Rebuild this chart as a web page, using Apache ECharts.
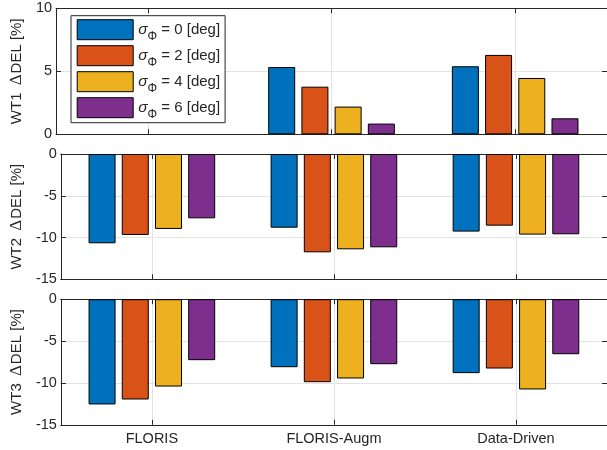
<!DOCTYPE html>
<html>
<head>
<meta charset="utf-8">
<script src="https://cdn.jsdelivr.net/npm/echarts@6/dist/echarts.min.js"></script>
<style>html,body{margin:0;padding:0;background:#fff;}#c{width:607px;height:450px;}</style>
</head>
<body>
<div id="c"></div>
<script>
// ---- data ----
const categories = ['FLORIS', 'FLORIS-Augm', 'Data-Driven'];
const sigmas = [0, 2, 4, 6];
const turbines = ['WT1', 'WT2', 'WT3'];
// values per sigma (rows) per category (columns); WT1 FLORIS is the baseline (no bar)
const wt1 = [
  [null, 5.34, 5.40],
  [null, 3.78, 6.30],
  [null, 2.20, 4.47],
  [null, 0.85, 1.27]
];
const wt2 = [
  [-10.69, -8.82, -9.29],
  [-9.69, -11.77, -8.58],
  [-8.97, -11.41, -9.65],
  [-7.70, -11.17, -9.61]
];
const wt3 = [
  [-12.57, -8.12, -8.83],
  [-11.98, -9.91, -8.28],
  [-10.43, -9.47, -10.78],
  [-7.28, -7.76, -6.57]
];
const yRanges = [[0, 10], [-15, 0], [-15, 0]];

// ---- styling ----
const colors = ['#0072BD', '#D95319', '#EDB120', '#7E2F8E'];
const FONT = "'Liberation Sans', Arial, Helvetica, sans-serif";
const AX = '#262626';
const GRIDC = '#e3e3e3';
const panels = [wt1, wt2, wt3];
const gridTops = [8.3, 154, 299.2];
const gridHeights = [126, 125.3, 125.6];
const L = 55, W = 553;

const grids = [], xAxes = [], yAxes = [], series = [];
const slots = ['a', 'b', 'c', 'd', 'e', 'f', 'g'];
const odd = (i) => i % 2 === 1;

panels.forEach((vals, p) => {
  grids.push({left: L, width: W, top: gridTops[p], height: gridHeights[p], containLabel: false});
  xAxes.push({
    gridIndex: p, type: 'category', data: categories, position: 'bottom',
    axisLine: {show: true, onZero: false, lineStyle: {color: AX, width: 1}},
    axisTick: {show: true, inside: true, alignWithLabel: true, length: 5, lineStyle: {color: AX}},
    axisLabel: {show: p === 2, color: AX, fontSize: 14.5, fontFamily: FONT, margin: 7},
    splitLine: {show: false}
  });
  xAxes.push({
    gridIndex: p, type: 'category', data: slots, position: 'top', boundaryGap: false,
    axisLine: {show: true, onZero: false, lineStyle: {color: AX, width: 1}},
    axisTick: {show: true, inside: true, length: 5, interval: odd, lineStyle: {color: AX}},
    axisLabel: {show: false},
    splitLine: {show: true, interval: odd, lineStyle: {color: GRIDC, width: 1}}
  });
  yAxes.push({
    gridIndex: p, type: 'value', min: yRanges[p][0], max: yRanges[p][1], interval: 5, position: 'left',
    name: turbines[p] + ' {d|Δ}DEL [%]', nameLocation: 'middle', nameRotate: 90, nameGap: 21,
    nameTextStyle: {color: AX, fontSize: 15, fontFamily: FONT,
      rich: {d: {fontSize: 17, fontFamily: "'Liberation Serif', serif", color: AX, padding: [0, 1, 0, 3]}}},
    axisLine: {show: true, onZero: false, lineStyle: {color: AX, width: 1}},
    axisTick: {show: true, inside: true, length: 5, lineStyle: {color: AX}},
    axisLabel: {color: AX, fontSize: 14.5, fontFamily: FONT, margin: 4},
    splitLine: {show: true, lineStyle: {color: GRIDC, width: 1}}
  });
  yAxes.push({
    gridIndex: p, type: 'value', min: yRanges[p][0], max: yRanges[p][1], interval: 5, position: 'right',
    axisLine: {show: true, onZero: false, lineStyle: {color: AX, width: 1}},
    axisTick: {show: true, inside: true, length: 5, lineStyle: {color: AX}},
    axisLabel: {show: false},
    splitLine: {show: false}
  });
  sigmas.forEach((s, k) => {
    series.push({
      type: 'bar', name: 'sigma' + s, xAxisIndex: p * 2, yAxisIndex: p * 2,
      data: vals[k], barWidth: 27, barGap: '23%',
      itemStyle: {color: colors[k], borderColor: '#000', borderWidth: 1},
      emphasis: {disabled: true}, animation: false
    });
  });
});

const option = {
  animation: false,
  grid: grids,
  xAxis: xAxes,
  yAxis: yAxes,
  legend: {
    data: sigmas.map(s => 'sigma' + s),
    orient: 'vertical', left: 71, top: 15.7,
    padding: [3.5, 5, 2, 5.7],
    backgroundColor: '#fff', borderColor: AX, borderWidth: 1, borderRadius: 0,
    itemWidth: 56, itemHeight: 20, itemGap: 2.5,
    icon: 'rect',
    itemStyle: {borderColor: '#000', borderWidth: 1},
    selectedMode: false,
    formatter: function (name) {
      const s = name.replace('sigma', '');
      return '{s|σ}{p|Φ}{n| = ' + s + ' [deg]}';
    },
    textStyle: {
      color: AX, fontFamily: FONT, fontSize: 15,
      rich: {
        s: {fontStyle: 'italic', fontSize: 15.5, fontFamily: FONT, color: AX, lineHeight: 26},
        p: {fontSize: 12, fontFamily: FONT, color: AX, lineHeight: 12, verticalAlign: 'bottom'},
        n: {fontSize: 15, fontFamily: FONT, color: AX, lineHeight: 26}
      }
    }
  },
  series: series
};
const chart = echarts.init(document.getElementById('c'), null, {renderer: 'canvas'});
chart.setOption(option);
</script>
</body>
</html>
